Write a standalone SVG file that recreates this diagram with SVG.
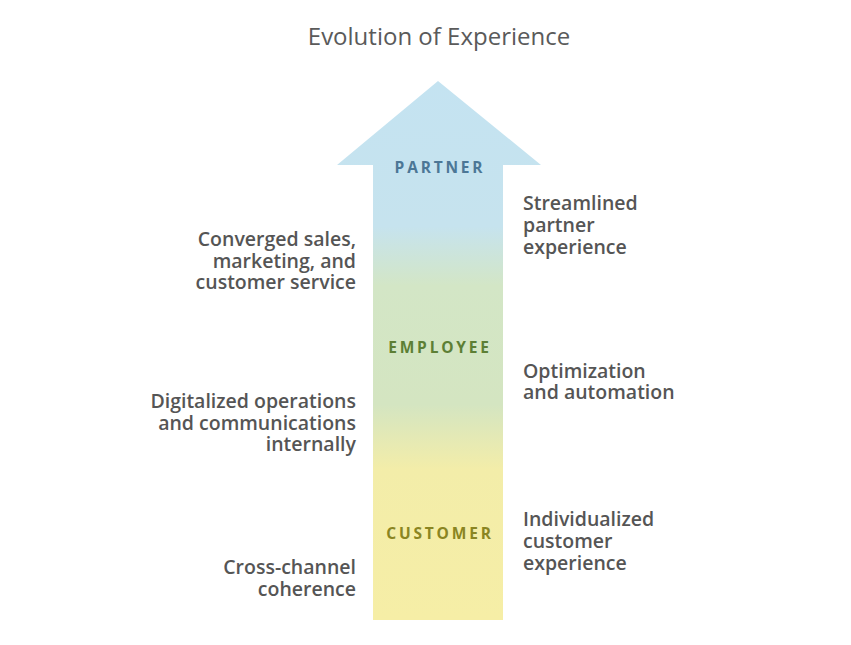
<svg xmlns="http://www.w3.org/2000/svg" width="851" height="645" viewBox="0 0 851 645">
<style>
.title{font-family:"Open Sans","Liberation Sans",sans-serif;font-size:24px;fill:#5a5a5a;text-anchor:middle}
.t{font-family:"Open Sans","Liberation Sans",sans-serif;font-size:19.5px;font-weight:600;fill:#555}
.l{text-anchor:end}
.stage{font-family:"Open Sans","Liberation Sans",sans-serif;font-size:15.5px;font-weight:700;letter-spacing:2.8px;text-anchor:middle}
</style>
<defs>
<linearGradient id="g" x1="0" y1="81" x2="0" y2="620" gradientUnits="userSpaceOnUse">
<stop offset="0" stop-color="#c4e3f1"/>
<stop offset="0.27" stop-color="#c6e3ee"/>
<stop offset="0.38" stop-color="#d3e6c6"/>
<stop offset="0.6" stop-color="#d4e5c1"/>
<stop offset="0.72" stop-color="#f3eda9"/>
<stop offset="1" stop-color="#f6eea6"/>
</linearGradient>
</defs>
<rect width="851" height="645" fill="#fff"/>
<text class="title" x="439" y="45">Evolution of Experience</text>
<g id="arrow">
<polygon points="438,81 541,165 503,165 503,620 373,620 373,165 337,165" fill="url(#g)"/>
</g>
<g id="partner"><text class="stage" x="440" y="173" fill="#4c7796">PARTNER</text></g>
<g id="employee"><text class="stage" x="440" y="353" fill="#5d7f35">EMPLOYEE</text></g>
<g id="customer"><text class="stage" x="440" y="539" fill="#8a8522">CUSTOMER</text></g>
<g id="left-partner"><text class="t l"><tspan x="356" y="246">Converged sales,</tspan><tspan x="356" y="268">marketing, and</tspan><tspan x="356" y="289">customer service</tspan></text></g>
<g id="left-employee"><text class="t l"><tspan x="356" y="408">Digitalized operations</tspan><tspan x="356" y="430">and communications</tspan><tspan x="356" y="451">internally</tspan></text></g>
<g id="left-customer"><text class="t l"><tspan x="356" y="574">Cross-channel</tspan><tspan x="356" y="596">coherence</tspan></text></g>
<g id="right-partner"><text class="t"><tspan x="523" y="210">Streamlined</tspan><tspan x="523" y="232">partner</tspan><tspan x="523" y="254">experience</tspan></text></g>
<g id="right-employee"><text class="t"><tspan x="523" y="378">Optimization</tspan><tspan x="523" y="399">and automation</tspan></text></g>
<g id="right-customer"><text class="t"><tspan x="523" y="526">Individualized</tspan><tspan x="523" y="548">customer</tspan><tspan x="523" y="570">experience</tspan></text></g>
<g id="connectors"></g>
</svg>
